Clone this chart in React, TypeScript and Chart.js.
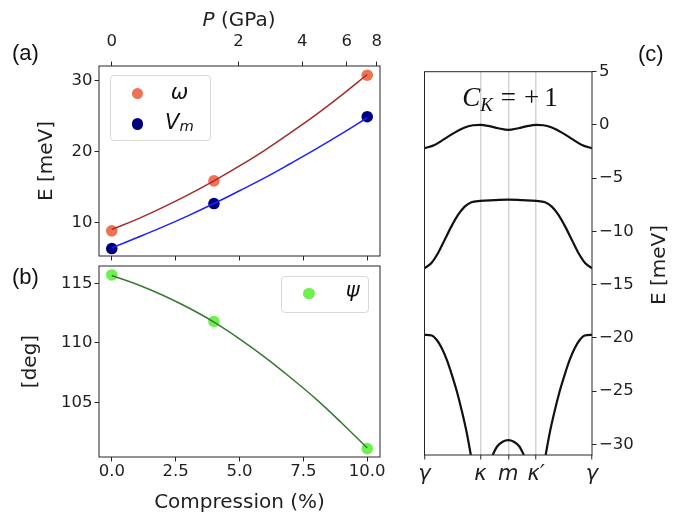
import React, { useEffect, useRef } from 'react';
import { Chart, registerables } from 'chart.js';

Chart.register(...registerables);
Chart.defaults.font.family = 'DejaVu Sans';
Chart.defaults.color = '#1f1f1f';

// ---------------- data ----------------
const compression = [0, 4, 10];
const omegaMeV = [8.85, 15.9, 30.8];
const vmMeV = [6.35, 12.7, 24.95];
const psiDeg = [115.7, 111.8, 101.15];

const fitCompression = [0, 1, 2, 3, 4, 5, 6, 7, 8, 9, 10];
const omegaFit = [9.05, 10.5, 12.15, 13.95, 15.9, 18.0, 20.25, 22.7, 25.25, 28.0, 30.9];
const vmFit = [6.45, 7.9, 9.4, 11.0, 12.7, 14.5, 16.35, 18.35, 20.4, 22.55, 24.8];
const psiFit = [115.65, 114.9, 114.0, 112.95, 111.75, 110.35, 108.8, 107.1, 105.3, 103.3, 101.2];

const compressionTicks = [0, 2.5, 5, 7.5, 10];
const pressureTickPos = [0, 4.96, 7.46, 9.2, 10.37];
const pressureTickLabels = ['0', '2', '4', '6', '8'];
const energyTicksA = [10, 20, 30];
const angleTicks = [105, 110, 115];

const pathTicks = [0, 1, 1.5, 2, 3];
const pathLabels = ['γ', 'κ', 'm', 'κ′', 'γ'];
const bandTicks = [-30, -25, -20, -15, -10, -5, 0, 5];

const band1K = [0, 0.18, 0.36, 0.54, 0.72, 0.87, 1.0, 1.14, 1.32, 1.5, 1.68, 1.86, 2.0, 2.13, 2.28, 2.46, 2.64, 2.82, 3.0];
const band1E = [-2.19, -1.88, -1.31, -0.72, -0.25, -0.03, 0, -0.09, -0.31, -0.47, -0.31, -0.09, 0, -0.03, -0.25, -0.72, -1.31, -1.88, -2.19];
const band2K = [0, 0.12, 0.24, 0.36, 0.48, 0.6, 0.72, 0.84, 1.0, 1.25, 1.5, 1.75, 2.0, 2.16, 2.28, 2.4, 2.52, 2.64, 2.76, 2.88, 3.0];
const band2E = [-13.46, -12.99, -12.05, -10.8, -9.55, -8.45, -7.67, -7.26, -7.14, -7.07, -7.01, -7.07, -7.14, -7.26, -7.67, -8.45, -9.55, -10.8, -12.05, -12.99, -13.46];
const band3LeftK = [0, 0.13, 0.22, 0.31, 0.4, 0.49, 0.58, 0.67, 0.76, 0.83];
const band3LeftE = [-19.72, -19.78, -20.2, -20.97, -22.07, -23.47, -25.04, -26.9, -29.0, -31.0];
const band3RightK = [2.17, 2.24, 2.33, 2.42, 2.51, 2.6, 2.69, 2.78, 2.87, 3.0];
const band3RightE = [-31.0, -29.0, -26.9, -25.04, -23.47, -22.07, -20.97, -20.2, -19.78, -19.72];
const band4K = [1.22, 1.3, 1.4, 1.5, 1.6, 1.7, 1.78];
const band4E = [-31.0, -30.2, -29.75, -29.6, -29.75, -30.2, -31.0];

// ---------------- helpers ----------------
const TICK_FONT = { family: 'DejaVu Sans', size: 16.5 };
const LABEL_FONT = { family: 'DejaVu Sans', size: 20 };
const INK = '#262626';

const pts = (xs: number[], ys: number[]) => xs.map((x, i) => ({ x, y: ys[i] }));
const setTicks = (vals: number[]) => (s: any) => {
  s.ticks = vals.map((v) => ({ value: v }));
};
const grid = (extra: any = {}) => ({
  drawOnChartArea: false,
  drawTicks: true,
  tickLength: 4.5,
  color: INK,
  tickColor: INK,
  tickWidth: 1,
  lineWidth: 1,
  ...extra,
});
const minus = (v: number) => (v < 0 ? '\u2212' + Math.abs(v) : String(v));

const framePlugin = {
  id: 'frame',
  afterDraw(chart: any) {
    const { ctx, chartArea: a } = chart;
    ctx.save();
    ctx.strokeStyle = INK;
    ctx.lineWidth = 1;
    ctx.strokeRect(a.left, a.top, a.right - a.left, a.bottom - a.top);
    ctx.restore();
  },
};

const fitLine = (label: string, xs: number[], ys: number[], color: string) => ({
  label,
  data: pts(xs, ys),
  showLine: true,
  borderColor: color,
  borderWidth: 1.5,
  pointRadius: 0,
  tension: 0.4,
  xAxisID: 'x',
  yAxisID: 'y',
  order: 0,
});
const markers = (label: string, xs: number[], ys: number[], color: string) => ({
  label,
  data: pts(xs, ys),
  showLine: false,
  pointRadius: 5.8,
  pointBackgroundColor: color,
  pointBorderWidth: 0,
  backgroundColor: color,
  borderColor: color,
  xAxisID: 'x',
  yAxisID: 'y',
  order: 1,
});
const band = (label: string, xs: number[], ys: number[]) => ({
  label,
  data: pts(xs, ys),
  showLine: true,
  borderColor: '#111111',
  borderWidth: 2.2,
  pointRadius: 0,
  cubicInterpolationMode: 'monotone',
  xAxisID: 'x',
  yAxisID: 'y',
});

const baseOptions = {
  animation: false,
  responsive: false,
  events: [],
  plugins: { legend: { display: false }, tooltip: { enabled: false } },
};

function configA(): any {
  return {
    type: 'scatter',
    data: {
      datasets: [
        fitLine('ω fit', fitCompression, omegaFit, '#a52a2a'),
        fitLine('Vm fit', fitCompression, vmFit, '#1e1eff'),
        markers('ω', compression, omegaMeV, '#f07255'),
        markers('Vm', compression, vmMeV, '#00007f'),
      ],
    },
    options: {
      ...baseOptions,
      layout: { padding: { left: 0, top: 0, right: 310, bottom: 256 } },
      scales: {
        x: {
          type: 'linear', position: 'bottom', min: -0.5, max: 10.5,
          afterBuildTicks: setTicks(compressionTicks),
          afterFit: (s: any) => { s.height = 5; },
          ticks: { display: false },
          grid: grid(), border: { display: false },
        },
        xTop: {
          type: 'linear', axis: 'x', position: 'top', min: -0.5, max: 10.5,
          afterBuildTicks: setTicks(pressureTickPos),
          afterFit: (s: any) => { s.height = 66; },
          ticks: {
            font: TICK_FONT, padding: 10, autoSkip: false, maxRotation: 0, minRotation: 0,
            callback: (_v: any, i: number) => pressureTickLabels[i],
          },
          grid: grid(), border: { display: false },
        },
        y: {
          type: 'linear', position: 'left', min: 5.3, max: 32.1,
          afterBuildTicks: setTicks(energyTicksA),
          afterFit: (s: any) => { s.width = 99; },
          ticks: { font: TICK_FONT, padding: 2 },
          grid: grid(), border: { display: false },
          title: { display: true, text: 'E [meV]', font: LABEL_FONT, padding: { top: 34.3, bottom: 0 } },
        },
      },
    },
    plugins: [framePlugin],
  };
}

function configB(): any {
  return {
    type: 'scatter',
    data: {
      datasets: [
        fitLine('ψ fit', fitCompression, psiFit, '#357a2e'),
        markers('ψ', compression, psiDeg, '#6ef04f'),
      ],
    },
    options: {
      ...baseOptions,
      layout: { padding: { left: 0, top: 266, right: 310, bottom: 0 } },
      scales: {
        x: {
          type: 'linear', position: 'bottom', min: -0.5, max: 10.5,
          afterBuildTicks: setTicks(compressionTicks),
          afterFit: (s: any) => { s.height = 60; },
          ticks: {
            font: TICK_FONT, padding: 0, autoSkip: false, maxRotation: 0, minRotation: 0,
            callback: (v: any) => Number(v).toFixed(1),
          },
          grid: grid(), border: { display: false },
          title: { display: true, text: 'Compression (%)', font: LABEL_FONT, padding: { top: 0, bottom: 2 } },
        },
        y: {
          type: 'linear', position: 'left', min: 100.45, max: 116.45,
          afterBuildTicks: setTicks(angleTicks),
          afterFit: (s: any) => { s.width = 99; },
          ticks: { font: TICK_FONT, padding: 2 },
          grid: grid(), border: { display: false },
          title: { display: true, text: '[deg]', font: LABEL_FONT, padding: { top: 18.8, bottom: 0 } },
        },
      },
    },
    plugins: [framePlugin],
  };
}

function configC(): any {
  return {
    type: 'scatter',
    data: {
      datasets: [
        band('band 1', band1K, band1E),
        band('band 2', band2K, band2E),
        band('band 3a', band3LeftK, band3LeftE),
        band('band 3b', band3RightK, band3RightE),
        band('band 4', band4K, band4E),
      ],
    },
    options: {
      ...baseOptions,
      layout: { padding: { left: 424.5, top: 71.7, right: 0, bottom: 0 } },
      scales: {
        x: {
          type: 'linear', position: 'bottom', min: 0, max: 3,
          afterBuildTicks: setTicks(pathTicks),
          afterFit: (s: any) => { s.height = 62; },
          ticks: {
            font: { family: 'DejaVu Sans', size: 21, style: 'italic' },
            padding: 2.6, autoSkip: false, maxRotation: 0, minRotation: 0,
            callback: (_v: any, i: number) => pathLabels[i],
          },
          grid: grid({
            drawOnChartArea: true,
            lineWidth: 1.5,
            color: (ctx: any) =>
              ctx.tick && (ctx.tick.value === 0 || ctx.tick.value === 3) ? 'rgba(0,0,0,0)' : '#d4d4d4',
          }),
          border: { display: false },
        },
        y: {
          type: 'linear', position: 'right', min: -31, max: 5,
          afterBuildTicks: setTicks(bandTicks),
          afterFit: (s: any) => { s.width = 98; },
          ticks: { font: TICK_FONT, padding: 2.5, callback: (v: any) => minus(Number(v)) },
          grid: grid(), border: { display: false },
        },
      },
    },
    plugins: [framePlugin],
  };
}

const abs = (s: React.CSSProperties): React.CSSProperties => ({ position: 'absolute', margin: 0, whiteSpace: 'nowrap', ...s });
const canvasStyle: React.CSSProperties = { position: 'absolute', left: 0, top: 0, width: 690, height: 517 };
const dot = (cx: number, cy: number, color: string, d = 11.5) =>
  abs({ left: cx - d / 2, top: cy - d / 2, width: d, height: d, borderRadius: '50%', background: color });
const legendBox = (l: number, t: number, w: number, h: number) =>
  abs({ left: l, top: t, width: w, height: h, boxSizing: 'border-box', border: '1px solid #d8d8d8', borderRadius: 4, background: 'rgba(255,255,255,0.85)' });
const panelLabel = (l: number, t: number) =>
  abs({ left: l, top: t, fontFamily: '"Liberation Sans", Arial, sans-serif', fontSize: 22, lineHeight: '22px', color: '#111' });
const legendText: React.CSSProperties = { fontFamily: '"DejaVu Sans"', fontSize: 21, lineHeight: '21px', fontStyle: 'italic', color: '#111' };

export default function App() {
  const refA = useRef<HTMLCanvasElement>(null);
  const refB = useRef<HTMLCanvasElement>(null);
  const refC = useRef<HTMLCanvasElement>(null);

  useEffect(() => {
    const charts = [
      new Chart(refA.current as HTMLCanvasElement, configA()),
      new Chart(refB.current as HTMLCanvasElement, configB()),
      new Chart(refC.current as HTMLCanvasElement, configC()),
    ];
    return () => charts.forEach((c) => c.destroy());
  }, []);

  return (
    <div style={{ position: 'absolute', left: 0, top: 0, width: 690, height: 517, background: '#fff', overflow: 'hidden' }}>
      <canvas ref={refA} width={690} height={517} style={canvasStyle} />
      <canvas ref={refB} width={690} height={517} style={canvasStyle} />
      <canvas ref={refC} width={690} height={517} style={canvasStyle} />

      {/* panel labels */}
      <div style={panelLabel(12, 42)}>(a)</div>
      <div style={panelLabel(12, 266)}>(b)</div>
      <div style={panelLabel(638, 43)}>(c)</div>

      {/* top axis title */}
      <div style={abs({ left: 139, top: 6.7, width: 200, textAlign: 'center', fontFamily: '"DejaVu Sans"', fontSize: 20, lineHeight: '24px', color: '#1f1f1f' })}>
        <i>P</i> (GPa)
      </div>

      {/* right axis title of (c) */}
      <div style={abs({ left: 598, top: 253, width: 120, height: 24, textAlign: 'center', fontFamily: '"DejaVu Sans"', fontSize: 20, lineHeight: '24px', color: '#1f1f1f', transform: 'rotate(-90deg)' })}>
        E [meV]
      </div>

      {/* Chern number annotation */}
      <div style={abs({ left: 440, top: 84, width: 140, textAlign: 'center', fontFamily: '"Liberation Serif", "DejaVu Serif", serif', fontSize: 27, lineHeight: '27px', color: '#111' })}>
        <i>C</i>
        <sub style={{ fontSize: '0.7em', lineHeight: 0, verticalAlign: '-0.25em' }}><i>K</i></sub>
        <span style={{ margin: '0 8px' }}>=</span>
        <span style={{ marginRight: 5 }}>+</span>1
      </div>

      {/* legend (a) */}
      <div style={legendBox(110, 75, 100.7, 66)} />
      <div style={dot(137.7, 93.3, '#f07255')} />
      <div style={dot(137.7, 124, '#00007f')} />
      <div style={abs({ ...legendText, left: 159.5, top: 82.2, width: 40, textAlign: 'center' })}>ω</div>
      <div style={abs({ ...legendText, left: 165, top: 112.2 })}>
        V<sub style={{ fontSize: '0.7em', lineHeight: 0, verticalAlign: '-1.7px' }}>m</sub>
      </div>

      {/* legend (b) */}
      <div style={legendBox(281, 276, 88.3, 37.3)} />
      <div style={dot(309, 293.3, '#6ef04f')} />
      <div style={abs({ ...legendText, left: 332.7, top: 279.8, width: 40, textAlign: 'center' })}>ψ</div>
    </div>
  );
}
